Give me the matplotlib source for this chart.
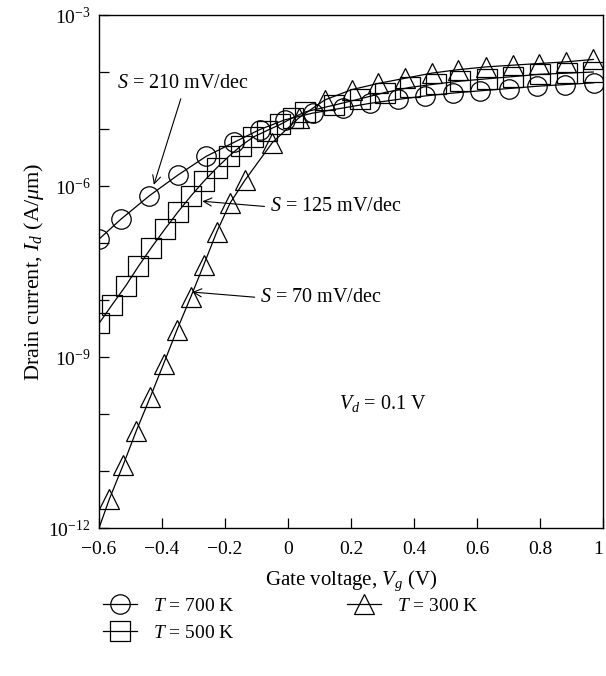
import matplotlib
matplotlib.use("Agg")
import matplotlib.pyplot as plt

plt.rcParams.update({
    "font.family": "Liberation Serif",
    "mathtext.fontset": "custom",
    "mathtext.rm": "Liberation Serif",
    "mathtext.it": "Liberation Serif:italic",
    "font.size": 14,
    "axes.linewidth": 1.0,
})

# ── Data ──────────────────────────────────────────────────────────────────────
# T = 700 K (circles)
VG_700 = [-0.60, -0.53, -0.44, -0.35, -0.26, -0.17, -0.09, -0.01, 0.08, 0.175,
          0.26, 0.35, 0.435, 0.523, 0.61, 0.70, 0.79, 0.88, 0.97]
ID_700 = [1.17e-7, 2.63e-7, 6.76e-7, 1.55e-6, 3.31e-6, 5.89e-6, 9.77e-6, 1.45e-5,
          1.91e-5, 2.34e-5, 2.82e-5, 3.31e-5, 3.80e-5, 4.27e-5, 4.68e-5, 5.13e-5,
          5.62e-5, 6.03e-5, 6.46e-5]

# T = 500 K (squares)
VG_500 = [-0.60, -0.558, -0.515, -0.475, -0.435, -0.39, -0.35, -0.309, -0.268,
          -0.226, -0.186, -0.148, -0.11, -0.068, -0.025, 0.015, 0.055, 0.147,
          0.229, 0.308, 0.387, 0.469, 0.546, 0.631, 0.715, 0.80, 0.885, 0.969]
ID_500 = [3.89e-9, 8.32e-9, 1.78e-8, 3.89e-8, 8.13e-8, 1.78e-7, 3.47e-7, 6.61e-7,
          1.20e-6, 2.09e-6, 3.39e-6, 5.13e-6, 7.24e-6, 9.33e-6, 1.20e-5, 1.58e-5,
          2.00e-5, 2.63e-5, 3.39e-5, 4.37e-5, 5.37e-5, 6.17e-5, 6.92e-5, 7.59e-5,
          8.32e-5, 9.12e-5, 9.55e-5, 1.00e-4]

# T = 300 K (triangles); first point only starts the line at the corner
VG_300 = [-0.60, -0.567, -0.523, -0.482, -0.437, -0.395, -0.353, -0.309, -0.268,
          -0.226, -0.184, -0.137, -0.05, 0.035, 0.117, 0.202, 0.287, 0.371, 0.456,
          0.541, 0.629, 0.715, 0.798, 0.883, 0.969]
ID_300 = [1.0e-12, 3.24e-12, 1.29e-11, 5.01e-11, 2.00e-10, 7.59e-10, 2.95e-9,
          1.12e-8, 4.07e-8, 1.58e-7, 5.01e-7, 1.26e-6, 5.75e-6, 1.58e-5, 3.24e-5,
          4.90e-5, 6.31e-5, 7.76e-5, 9.55e-5, 1.10e-4, 1.23e-4, 1.32e-4, 1.41e-4,
          1.51e-4, 1.66e-4]

X_TICKS = [-0.6, -0.4, -0.2, 0, 0.2, 0.4, 0.6, 0.8, 1.0]
X_LABELS = ["\u22120.6", "\u22120.4", "\u22120.2", "0", "0.2", "0.4", "0.6", "0.8", "1"]
Y_DECADES = [1e-12, 1e-11, 1e-10, 1e-9, 1e-8, 1e-7, 1e-6, 1e-5, 1e-4, 1e-3]
Y_LABELS = [r"$10^{-12}$", "", "", r"$10^{-9}$", "", "", r"$10^{-6}$", "", "", r"$10^{-3}$"]

LEGEND_LABELS = [r"$T$ = 700 K", r"$T$ = 500 K", r"$T$ = 300 K"]

# ── Figure ────────────────────────────────────────────────────────────────────
fig = plt.figure(figsize=(6.06, 6.76), dpi=100)
ax = fig.add_axes([0.1634, 0.2189, 0.8317, 0.7589])

common = dict(color="black", lw=0.9, ms=14, mfc="none", mec="black", mew=0.9)
h700, = ax.plot(VG_700, ID_700, marker="o", **common)
h500, = ax.plot(VG_500, ID_500, marker="s", **common)
h300, = ax.plot(VG_300, ID_300, marker="^", markevery=list(range(1, len(VG_300))),
                **common)

ax.set_yscale("log")
ax.set_xlim(-0.6, 1.0)
ax.set_ylim(1e-12, 1e-3)
ax.set_xticks(X_TICKS)
ax.set_xticklabels(X_LABELS)
ax.set_yticks(Y_DECADES)
ax.set_yticklabels(Y_LABELS)
ax.minorticks_off()
ax.tick_params(direction="in", length=7, width=0.9, top=False, right=False)
ax.tick_params(axis="x", pad=9)
ax.tick_params(axis="y", pad=6)
ax.get_xticklabels()[-1].set_horizontalalignment("right")

ax.set_xlabel(r"Gate voltage, $V_g$ (V)", fontsize=15, labelpad=8)
ax.set_ylabel(r"Drain current, $I_d$ (A/$\mu$m)", fontsize=16, labelpad=2)

# annotations
arrow = dict(arrowstyle="->", color="black", lw=0.8, shrinkA=2, shrinkB=0)
ax.annotate(r"$S$ = 210 mV/dec", xy=(-0.426, 1.05e-6), xytext=(-0.335, 6.2e-5),
            ha="center", va="center", fontsize=14.5,
            arrowprops=dict(arrow, relpos=(0.5, 0.0)))
ax.annotate(r"$S$ = 125 mV/dec", xy=(-0.272, 5.4e-7), xytext=(0.152, 4.3e-7),
            ha="center", va="center", fontsize=14.5,
            arrowprops=dict(arrow, relpos=(0.0, 0.5)))
ax.annotate(r"$S$ = 70 mV/dec", xy=(-0.304, 1.38e-8), xytext=(0.105, 1.1e-8),
            ha="center", va="center", fontsize=14.5,
            arrowprops=dict(arrow, relpos=(0.0, 0.5)))
ax.text(0.30, 1.55e-10, r"$V_d$ = 0.1 V", ha="center", va="center", fontsize=14.5)

fig.legend([h700, h500, h300], LEGEND_LABELS, ncol=2, loc="upper left",
           bbox_to_anchor=(103 / 606, 1 - 597 / 676), frameon=False,
           borderpad=0, borderaxespad=0, handlelength=1.75, handletextpad=0.8,
           columnspacing=5.8, labelspacing=0.5, numpoints=1)

fig.savefig("out.png", dpi=100)
